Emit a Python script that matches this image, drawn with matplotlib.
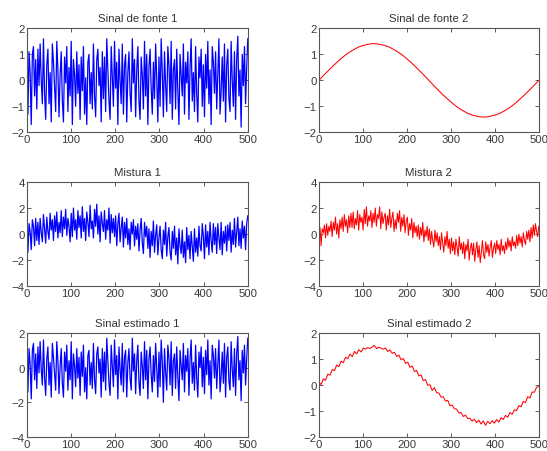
import numpy as np
import matplotlib.pyplot as plt

# source 1 (noise-like)
fonte1 = [
    0.5, -1.3, 1.1, 0.3, -1.7, 1.0, 1.3, -0.6, 0.8, -1.1,
    1.2, -0.2, 1.4, 0.0, -0.9, 1.6, -0.5, -1.5, 0.6, 1.2,
    -0.9, 0.3, -1.6, 1.4, 0.7, -0.3, -1.2, 1.5, 0.4, -1.4,
    0.2, 1.1, -0.8, -1.6, 0.9, -0.1, 1.3, -1.2, 0.5, -0.6,
    1.5, -1.7, 0.8, 0.2, -1.0, 1.1, -0.5, 0.6, -1.5, 0.9,
    -0.4, 1.3, -1.3, 0.1, -1.7, 0.7, 1.0, -0.9, 0.3, -1.1,
    1.4, -0.6, -1.4, 0.8, 1.2, -0.2, 0.5, -1.6, 1.1, -0.7,
    0.9, -1.2, 1.6, 0.4, -0.8, -1.5, 1.3, 0.2, -1.0, 1.5,
    -0.3, 0.7, -1.7, 1.2, 0.0, -0.9, 1.4, -1.3, 0.6, 1.0,
    -1.6, 0.3, 1.1, -0.5, -1.2, 1.6, -0.1, 0.8, -1.4, 0.4,
    1.3, -0.8, -1.5, 0.9, 0.2, -1.1, 1.5, -0.6, 1.0, -1.7,
    0.5, 1.2, -0.3, -1.3, 0.7, -0.7, 1.4, 0.1, -1.6, 0.9,
    -1.0, 1.6, 0.3, -1.4, 1.1, -0.2, -1.2, 1.3, 0.6, -0.9,
    1.5, -1.5, 0.4, 0.8, -1.1, 1.2, -0.4, -1.7, 1.0, 0.2,
    -0.6, 1.4, -1.3, 0.7, -0.1, 1.1, -1.5, 0.5, 1.6, -0.8,
    0.3, -1.2, 1.3, -0.5, -1.6, 0.9, 0.1, 1.2, -1.0, 0.6,
    -1.4, 1.0, -0.3, 1.5, -0.9, 0.4, -1.7, 1.3, 0.7, -0.5,
    1.1, -1.1, 0.2, 1.6, -1.3, -0.4, 0.9, -0.8, 1.4, -1.6,
    0.6, 1.2, -0.7, -1.2, 1.5, 0.0, -1.0, 1.1, -1.5, 0.8,
    1.7, -0.6, 0.4, -1.8, 1.0, -0.2, 1.3, -0.9, 0.5, 1.6,
]

# source 2 (sine), every 10 samples
fonte2 = [
    0.00, 0.18, 0.35, 0.52, 0.68, 0.83, 0.97, 1.09, 1.19, 1.28,
    1.34, 1.38, 1.41, 1.41, 1.38, 1.34, 1.28, 1.19, 1.09, 0.97,
    0.83, 0.68, 0.52, 0.35, 0.18, 0.00, -0.18, -0.35, -0.52, -0.68,
    -0.83, -0.97, -1.09, -1.19, -1.28, -1.34, -1.38, -1.41, -1.41, -1.38,
    -1.34, -1.28, -1.19, -1.09, -0.97, -0.83, -0.68, -0.52, -0.35, -0.18,
    0.00,
]

mistura1 = [
    0.9, -1.4, 0.8, 0.2, -1.2, 1.1, 0.6, -0.9, 1.2, -0.5,
    0.9, -0.8, 1.2, 0.1, -0.6, 1.5, 0.4, -0.7, 1.3, 0.2,
    -0.4, 1.6, 0.3, 1.1, -0.5, 1.4, 0.2, 1.7, -0.3, 0.9,
    0.1, 1.8, -0.2, 1.3, 0.4, 1.9, -0.1, 1.2, 0.6, -0.6,
    1.6, -0.2, 2.0, 0.3, 1.1, -0.4, 1.8, 0.5, 1.4, -0.3,
    2.1, 0.2, 1.2, -0.5, 1.7, 0.9, -0.2, 2.2, 0.4, 1.0,
    -0.3, 1.9, 0.6, 2.3, 0.0, 1.4, -0.6, 1.7, 0.8, 0.2,
    1.8, -0.4, 1.1, 0.3, 2.0, -0.7, 1.5, 0.1, 1.2, -0.2,
    1.4, -0.9, 0.8, 1.6, -0.6, 0.5, 1.3, -1.0, 0.9, -0.3,
    1.2, -0.8, 0.4, -1.2, 0.9, 0.0, 1.1, -0.9, 0.6, -0.4,
    0.8, -1.3, 0.3, 1.2, -0.7, -1.5, 0.9, -0.2, 0.6, -1.1,
    0.4, -1.8, 0.2, -0.9, 1.0, -1.4, -0.1, 0.7, -1.6, -0.3,
    0.6, -1.2, -1.9, 0.3, -0.8, 0.9, -1.7, -0.2, 0.5, -1.4,
    -2.0, 0.2, -1.1, 0.6, -1.6, -0.3, -2.3, 0.4, -0.9, -1.5,
    0.3, -1.8, -0.6, -2.2, 0.5, -1.2, -0.1, -1.9, 0.2, -1.0,
    -2.1, 0.4, -1.4, -0.3, -1.7, 0.6, -0.9, -1.3, 0.8, -0.2,
    -1.9, 0.7, -1.0, 0.2, -1.6, 0.9, -0.5, -1.4, 0.8, -0.8,
    0.5, -1.5, 0.8, -0.3, -1.2, 0.9, -1.6, 0.2, -0.7, 0.6,
    -1.3, 0.7, -0.5, 0.9, -1.4, 0.3, -0.8, 1.2, -1.0, 0.1,
    1.3, -0.9, 0.4, -1.1, 1.0, -0.3, 0.6, -1.2, 0.8, 1.4,
]

mistura2 = [
    -0.6, 0.5, -0.9, 0.4, 0.1, 0.7, -0.3, 0.8, -0.1, 0.6,
    0.2, 1.0, -0.2, 0.9, 0.3, 1.3, 0.0, 0.8, -0.3, 1.1,
    0.4, 1.3, 0.2, 1.5, 0.6, 1.1, 0.1, 1.4, 0.5, 1.6,
    0.5, 1.7, 0.4, 1.2, 0.7, 1.8, 0.3, 1.5, 0.9, 1.3,
    0.3, 1.9, 0.8, 2.1, 0.6, 1.4, 1.0, 1.8, 0.5, 1.6,
    0.9, 2.0, 0.6, 1.5, 1.2, 2.1, 0.4, 1.7, 0.8, 1.3,
    1.6, 0.3, 1.4, 0.7, 1.9, 0.5, 1.2, 1.7, 0.2, 1.1,
    0.4, 1.6, 0.9, 1.8, 0.2, 1.3, 0.6, 1.5, 0.1, 1.0,
    1.3, -0.1, 0.8, 0.3, 1.2, -0.3, 0.9, 0.1, 0.6, -0.2,
    0.7, -0.4, 0.5, -0.1, 0.9, -0.6, 0.3, -0.2, 0.6, -0.5,
    0.4, -0.8, 0.2, -0.5, -1.0, 0.3, -0.6, 0.1, -0.9, -0.2,
    -1.2, 0.1, -0.7, -1.4, -0.2, -0.9, 0.2, -1.1, -0.4, -1.5,
    -0.3, -1.3, -0.6, -1.6, -0.4, -1.0, -1.7, -0.2, -1.2, -0.7,
    -1.5, -0.6, -1.9, -0.8, -1.3, -0.4, -2.0, -1.1, -0.7, -1.6,
    -0.7, -2.1, -1.2, -0.6, -1.8, -0.9, -2.2, -1.4, -0.5, -1.6,
    -1.9, -0.6, -1.4, -0.8, -1.7, -1.0, -0.5, -1.8, -1.1, -0.7,
    -1.5, -0.5, -1.2, -0.8, -1.6, -0.4, -1.3, -0.9, -1.5, -0.6,
    -1.2, -0.3, -1.0, -0.5, -1.3, -0.2, -0.9, -0.6, -1.1, -0.1,
    -0.9, 0.0, -0.7, -0.2, -1.0, 0.1, -0.5, -0.8, 0.2, -0.4,
    0.3, -0.6, 0.5, -0.3, 0.7, -0.1, 0.8, 0.2, -0.2, 0.6,
]

estimado1 = [
    0.6, -1.4, 1.1, 0.2, -1.8, 1.0, 1.4, -0.7, 0.8, -1.2,
    1.2, -0.3, 1.5, -0.1, -1.0, 1.6, -0.6, -1.6, 0.5, 1.2,
    -1.0, 0.3, -1.7, 1.4, 0.6, -0.4, -1.3, 1.5, 0.4, -1.5,
    0.1, 1.1, -0.9, -1.7, 0.9, -0.2, 1.3, -1.3, 0.4, -0.7,
    1.5, -1.8, 0.8, 0.1, -1.1, 1.1, -0.6, 0.6, -1.6, 0.9,
    -0.5, 1.3, -1.4, 0.0, -1.8, 0.7, 1.0, -1.0, 0.3, -1.2,
    1.4, -0.7, -1.5, 0.8, 1.2, -0.3, 0.5, -1.7, 1.1, -0.8,
    0.9, -1.3, 1.7, 0.4, -0.9, -1.6, 1.3, 0.1, -1.1, 1.6,
    -0.4, 0.7, -1.8, 1.2, -0.1, -1.0, 1.4, -1.4, 0.6, 1.0,
    -1.7, 0.3, 1.1, -0.6, -1.3, 1.7, -0.2, 0.8, -1.5, 0.4,
    1.3, -0.9, -1.6, 0.9, 0.1, -1.2, 1.5, -0.7, 1.0, -1.8,
    0.5, 1.2, -0.4, -1.4, 0.7, -0.8, 1.4, 0.0, -1.7, 0.9,
    -1.1, 1.6, 0.3, -2.0, 1.1, -0.3, -1.3, 1.3, 0.6, -1.0,
    1.5, -1.6, 0.4, 0.8, -1.2, 1.2, -0.5, -1.9, 1.0, 0.1,
    -0.7, 1.4, -1.4, 0.7, -0.2, 1.1, -1.6, 0.5, 1.6, -0.9,
    0.3, -1.3, 1.3, -0.6, -1.7, 0.9, 0.0, 1.2, -1.1, 0.6,
    -1.5, 1.0, -0.4, 1.6, -1.0, 0.4, -1.8, 1.3, 0.7, -0.6,
    1.1, -1.2, 0.2, 1.6, -1.4, -0.5, 0.9, -0.9, 1.4, -1.7,
    0.6, 1.2, -0.8, -1.3, 1.5, -0.1, -1.1, 1.1, -1.6, 0.8,
    1.8, -0.7, 0.4, -1.9, 1.0, -0.3, 1.3, -1.0, 0.5, 1.7,
]

estimado2 = [
    0.10, 0.02, 0.24, 0.18, 0.42, 0.38, 0.60, 0.55, 0.77, 0.71,
    0.92, 0.86, 1.07, 1.01, 1.19, 1.09, 1.29, 1.20, 1.36, 1.27,
    1.42, 1.38, 1.44, 1.40, 1.47, 1.52, 1.40, 1.46, 1.41, 1.38,
    1.42, 1.29, 1.35, 1.22, 1.26, 1.10, 1.15, 0.97, 1.02, 0.83,
    0.88, 0.68, 0.73, 0.52, 0.56, 0.35, 0.39, 0.17, 0.21, -0.01,
    0.01, -0.21, -0.10, -0.30, -0.31, -0.47, -0.45, -0.62, -0.59, -0.80,
    -0.77, -0.91, -0.93, -1.08, -1.06, -1.21, -1.16, -1.29, -1.28, -1.39,
    -1.32, -1.45, -1.35, -1.50, -1.38, -1.55, -1.40, -1.49, -1.37, -1.47,
    -1.33, -1.43, -1.26, -1.33, -1.17, -1.24, -1.06, -1.13, -0.95, -0.99,
    -0.79, -0.84, -0.63, -0.68, -0.45, -0.50, -0.27, -0.28, -0.09, -0.05,
]

titles = ['Sinal de fonte 1', 'Sinal de fonte 2', 'Mistura 1', 'Mistura 2',
          'Sinal estimado 1', 'Sinal estimado 2']
series = [fonte1, fonte2, mistura1, mistura2, estimado1, estimado2]
colors = ['#0000ff', '#ff0000', '#0000ff', '#ff0000', '#0000ff', '#ff0000']
ylims = [(-2, 2), (-2, 2), (-4, 4), (-4, 4), (-4, 2), (-2, 2)]
ysteps = [1, 1, 2, 2, 2, 1]

plt.rcParams['font.family'] = ['Liberation Sans', 'DejaVu Sans']

fig = plt.figure(figsize=(5.47, 4.52), dpi=100)

# axes rectangles in figure fraction
col_x = [0.049, 0.583]
col_w = [0.404, 0.402]
row_y = [0.705, 0.365, 0.031]
row_h = 0.230

for k in range(6):
    r, c = divmod(k, 2)
    ax = fig.add_axes([col_x[c], row_y[r], col_w[c], row_h])
    y = np.array(series[k])
    x = np.linspace(0, 500, len(y))
    lw = 0.9 if k in (0, 2, 4) else 0.75
    ax.plot(x, y, color=colors[k], lw=lw)
    ax.set_xlim(0, 500)
    ax.set_ylim(*ylims[k])
    ax.set_xticks(np.arange(0, 501, 100))
    lo, hi = ylims[k]
    ax.set_yticks(np.arange(lo, hi + 0.1, ysteps[k]))
    ax.tick_params(direction='in', top=True, right=True, length=3,
                   width=0.6, colors='#444444', labelsize=8.2, pad=1.5,
                   labelcolor='#3a3a3a')
    for s in ax.spines.values():
        s.set_color('#555555')
        s.set_linewidth(0.8)
    ax.set_title(titles[k], fontsize=8.2, color='#333333', pad=5)

fig.savefig('out.png', dpi=100)
